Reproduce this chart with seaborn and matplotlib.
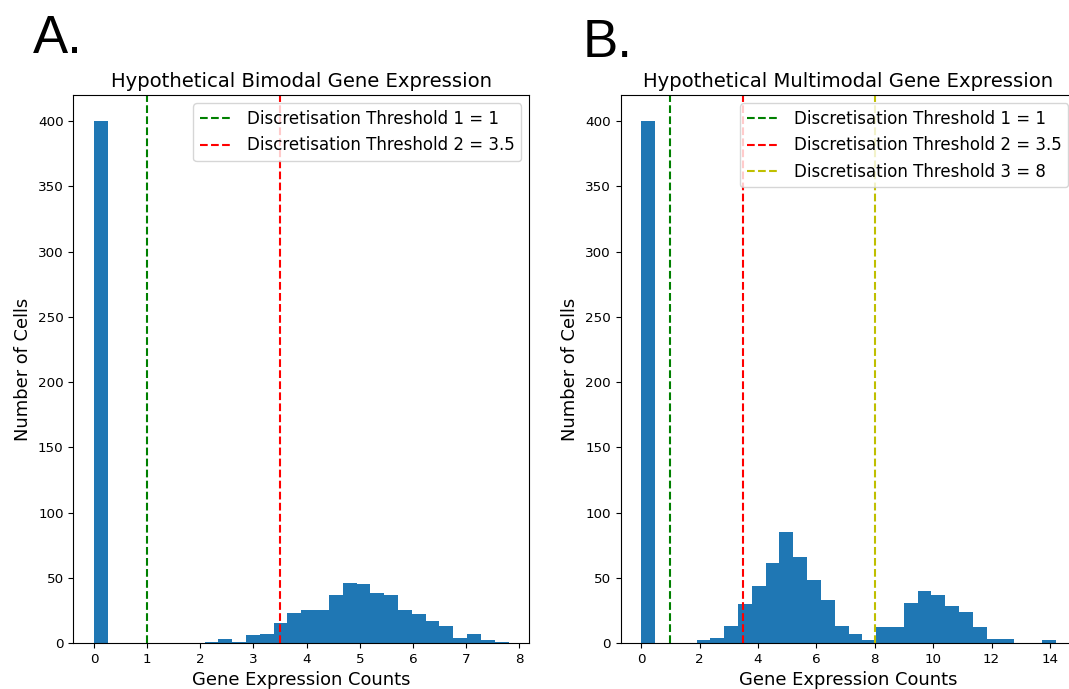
"""
Histogrammes hypothétiques d'expression génique avec seuils de discrétisation.
"""

import numpy as np
import seaborn as sns
import matplotlib.pyplot as plt

# comptes par bin (30 bins)
bimodal_counts = [400, 0, 0, 0, 0, 0, 0, 0, 1, 3, 1, 6, 7, 15, 23, 25,
                  25, 37, 46, 45, 38, 37, 25, 22, 17, 13, 4, 7, 2, 1]
bimodal_range = (0, 7.8)

multimodal_counts = [400, 0, 0, 0, 2, 4, 13, 30, 44, 61, 85, 66, 48, 33, 13,
                     7, 2, 12, 12, 31, 40, 37, 28, 24, 12, 3, 3, 0, 0, 2]
multimodal_range = (0, 14.2)

bimodal_thresholds = [1, 3.5]
multimodal_thresholds = [1, 3.5, 8]
threshold_colors = ["g", "r", "y"]

titles = ["Hypothetical Bimodal Gene Expression",
          "Hypothetical Multimodal Gene Expression"]
panel_letters = ["A.", "B."]


def draw_panel(ax, counts, rng, thresholds, title):
    """histogramme + lignes de seuil"""
    n = len(counts)
    width = (rng[1] - rng[0]) / n
    centers = rng[0] + (np.arange(n) + 0.5) * width
    sns.histplot(x=centers, weights=counts, bins=n, binrange=rng, ax=ax,
                 color="#1f77b4", alpha=1, edgecolor="none", linewidth=0)
    for i, t in enumerate(thresholds):
        ax.axvline(t, color=threshold_colors[i], linestyle="--",
                   label=f"Discretisation Threshold {i + 1} = {t:g}")
    ax.set_title(title, fontsize=14.1)
    ax.set_xlabel("Gene Expression Counts", fontsize=12.9)
    ax.set_ylabel("Number of Cells", fontsize=12.9)
    ax.tick_params(labelsize=9.7)
    ax.legend(loc="upper right", fontsize=12)


def main():
    fig = plt.figure(figsize=(10.69, 6.89), dpi=100)
    ax_a = fig.add_axes([73.3 / 1069, 46 / 689, 456 / 1069, 548 / 689])
    ax_b = fig.add_axes([620.5 / 1069, 46 / 689, 456 / 1069, 548 / 689])

    draw_panel(ax_a, bimodal_counts, bimodal_range, bimodal_thresholds, titles[0])
    draw_panel(ax_b, multimodal_counts, multimodal_range, multimodal_thresholds, titles[1])

    fig.text(33 / 1069, 1 - 53 / 689, panel_letters[0], fontsize=38,
             family="Liberation Sans")
    fig.text(583 / 1069, 1 - 57 / 689, panel_letters[1], fontsize=38,
             family="Liberation Sans")

    fig.savefig("out.png", dpi=100)


if __name__ == "__main__":
    main()
